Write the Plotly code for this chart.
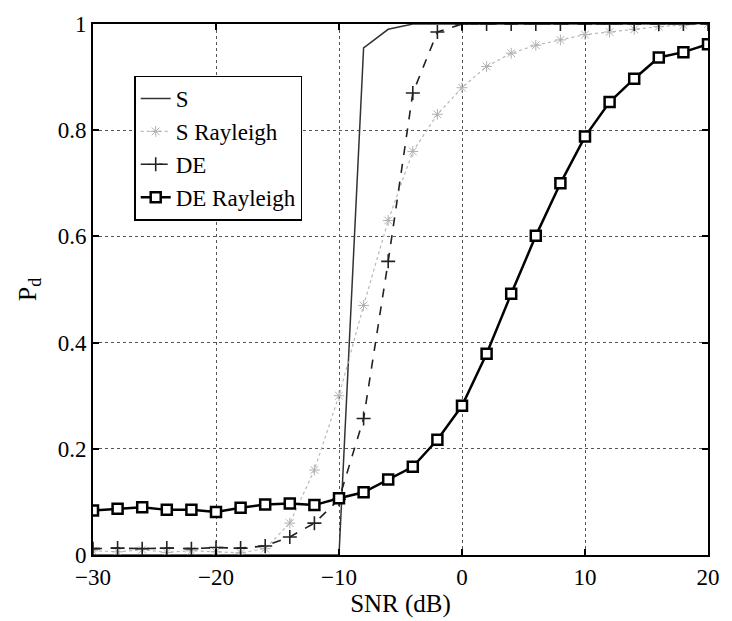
import plotly.graph_objects as go

snr = [-30, -28, -26, -24, -22, -20, -18, -16, -14, -12, -10, -8, -6, -4, -2,
       0, 2, 4, 6, 8, 10, 12, 14, 16, 18, 20]

s_vals = [0, 0, 0, 0, 0, 0, 0, 0, 0, 0, 0, 0.955, 0.99, 1, 1,
          1, 1, 1, 1, 1, 1, 1, 1, 1, 1, 1]

s_ray = [0.008, 0.006, 0.01, 0.005, 0.008, 0.006, 0.004, 0.012, 0.06, 0.16, 0.30, 0.47, 0.63, 0.76, 0.83,
         0.88, 0.92, 0.945, 0.96, 0.97, 0.98, 0.985, 0.99, 0.995, 0.998, 1.0]

de_vals = [0.012, 0.013, 0.012, 0.013, 0.012, 0.014, 0.013, 0.017, 0.034, 0.06, 0.105, 0.257, 0.553, 0.87, 0.985,
           1, 1, 1, 1, 1, 1, 1, 1, 1, 1, 1]

de_ray = [0.084, 0.087, 0.090, 0.085, 0.085, 0.081, 0.089, 0.095, 0.097, 0.094, 0.107, 0.118, 0.142, 0.166, 0.217,
          0.281, 0.379, 0.492, 0.601, 0.70, 0.788, 0.853, 0.897, 0.937, 0.947, 0.962]

x_ticks = [-30, -20, -10, 0, 10, 20]
y_ticks = [0, 0.2, 0.4, 0.6, 0.8, 1]

FONT = "Liberation Serif, Times New Roman, serif"

fig = go.Figure()
fig.add_trace(go.Scatter(x=snr, y=s_vals, name="S", mode="lines",
                         line=dict(color="#333333", width=1.5), legendgroup="a"))
fig.add_trace(go.Scatter(x=snr, y=s_ray, name="S Rayleigh", mode="lines+markers",
                         line=dict(color="#b8b8b8", width=1.2, dash="dot"),
                         marker=dict(symbol="asterisk-open", size=9, color="#b0b0b0",
                                     line=dict(color="#b0b0b0", width=1)),
                         legendgroup="b"))
fig.add_trace(go.Scatter(x=snr, y=de_vals, name="DE", mode="lines+markers",
                         line=dict(color="#222222", width=1.6, dash="dash"),
                         marker=dict(symbol="cross-thin-open", size=10, color="#222222",
                                     line=dict(color="#222222", width=1.6)),
                         legendgroup="c"))
fig.add_trace(go.Scatter(x=snr, y=de_ray, name="DE Rayleigh", mode="lines+markers",
                         line=dict(color="#000000", width=2.5),
                         marker=dict(symbol="square", size=10, color="white",
                                     line=dict(color="#000000", width=2.5)),
                         legendgroup="d"))

axis_common = dict(
    showline=True, linecolor="black", linewidth=2, mirror="ticks",
    ticks="inside", ticklen=6, tickcolor="black", tickwidth=1.5,
    showgrid=True, gridcolor="#555555", gridwidth=1, griddash="dot",
    zeroline=False,
    tickfont=dict(family=FONT, size=23, color="black"),
)

fig.update_layout(
    width=732, height=621,
    margin=dict(l=93, r=15, t=18, b=66),
    paper_bgcolor="white", plot_bgcolor="white",
    font=dict(family=FONT, color="black"),
    xaxis=dict(range=[-30, 20], tickvals=x_ticks,
               title=dict(text="SNR (dB)", font=dict(family=FONT, size=25), standoff=2),
               **axis_common),
    yaxis=dict(range=[0, 1], tickvals=y_ticks,
               title=dict(text="P<sub>d</sub>", font=dict(family=FONT, size=26), standoff=14),
               **axis_common),
    legend=dict(x=0.067, y=0.903, xanchor="left", yanchor="top",
                bordercolor="black", borderwidth=1.5, bgcolor="white",
                font=dict(family=FONT, size=23), tracegroupgap=0),
    showlegend=True,
)

fig.write_html("out.html")
